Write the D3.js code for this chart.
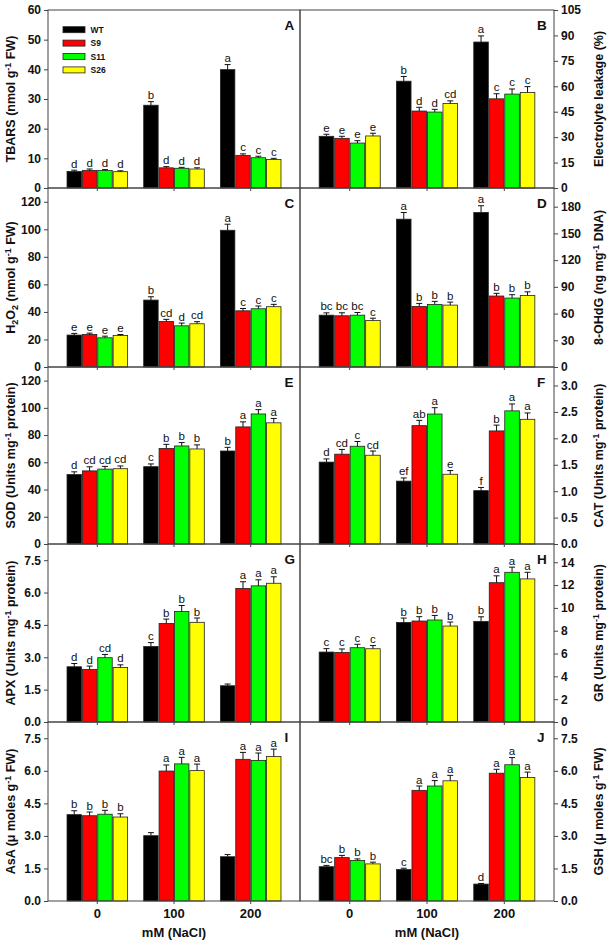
<!DOCTYPE html>
<html>
<head>
<meta charset="utf-8">
<script src="https://cdn.jsdelivr.net/npm/d3@7"></script>
<style>
  html, body { margin: 0; padding: 0; background: #fff; }
  svg { display: block; }
  text { font-family: "Liberation Sans", Arial, Helvetica, sans-serif; }
</style>
</head>
<body>
<svg id="chart" width="610" height="945"></svg>
<script>
// ---------------- DATA ----------------
const groups = ["0", "100", "200"];
const series = ["WT", "S9", "S11", "S26"];
const seriesColors = ["#000000", "#ff0000", "#00ff00", "#ffff00"];

// A: TBARS
const tbarsValues  = [[5.6, 5.9, 5.9, 5.5], [27.9, 6.8, 6.65, 6.4], [39.9, 11.0, 10.2, 9.6]];
const tbarsErrors  = [[0.4, 0.5, 0.3, 0.3], [1.2, 0.4, 0.3, 0.4], [1.7, 0.5, 0.5, 0.4]];
const tbarsLetters = [["d", "d", "d", "d"], ["b", "d", "d", "d"], ["a", "c", "c", "c"]];
const tbarsTicks   = [0, 10, 20, 30, 40, 50, 60];

// B: Electrolyte leakage
const elValues  = [[30.5, 29.3, 26.5, 30.7], [63.0, 45.4, 44.8, 49.8], [86.1, 52.6, 55.4, 56.4]];
const elErrors  = [[1.2, 1.2, 1.4, 1.6], [2.8, 2.2, 1.6, 1.6], [3.6, 3.0, 3.0, 3.4]];
const elLetters = [["e", "e", "e", "e"], ["b", "d", "d", "cd"], ["a", "c", "c", "c"]];
const elTicks   = [0, 15, 30, 45, 60, 75, 90, 105];

// C: H2O2
const h2o2Values  = [[23.2, 23.6, 21.2, 22.9], [48.6, 33.1, 29.9, 31.4], [99.3, 40.8, 42.3, 43.8]];
const h2o2Errors  = [[1.2, 1.0, 1.2, 0.7], [2.4, 1.5, 2.0, 1.5], [4.4, 1.7, 2.0, 1.7]];
const h2o2Letters = [["e", "e", "e", "e"], ["b", "cd", "d", "cd"], ["a", "c", "c", "c"]];
const h2o2Ticks   = [0, 20, 40, 60, 80, 100, 120];

// D: 8-OHdG
const ohdgValues  = [[58.2, 57.5, 58.2, 52.2], [166, 68, 70.3, 69.5], [173.6, 79.7, 77.4, 80.4]];
const ohdgErrors  = [[2.6, 3.4, 3.0, 2.6], [7.5, 3.4, 3.4, 3.4], [7.5, 3.0, 3.8, 4.0]];
const ohdgLetters = [["bc", "bc", "bc", "c"], ["a", "b", "b", "b"], ["a", "b", "b", "b"]];
const ohdgTicks   = [0, 30, 60, 90, 120, 150, 180];

// E: SOD
const sodValues  = [[51, 53.7, 55, 55.3], [56.8, 70.2, 72, 69.8], [68.3, 86, 95.5, 89]];
const sodErrors  = [[2, 3, 2, 2], [2, 3, 2.5, 3], [2.7, 3.7, 3.2, 3.2]];
const sodLetters = [["d", "cd", "cd", "cd"], ["c", "b", "b", "b"], ["b", "a", "a", "a"]];
const sodTicks   = [0, 20, 40, 60, 80, 100, 120];

// F: CAT
const catValues  = [[1.55, 1.70, 1.85, 1.68], [1.19, 2.24, 2.46, 1.32], [1.01, 2.14, 2.52, 2.36]];
const catErrors  = [[0.06, 0.09, 0.09, 0.08], [0.06, 0.10, 0.12, 0.07], [0.06, 0.11, 0.13, 0.12]];
const catLetters = [["d", "cd", "c", "cd"], ["ef", "ab", "a", "e"], ["f", "b", "a", "a"]];
const catTicks   = [0, 0.5, 1.0, 1.5, 2.0, 2.5, 3.0];

// G: APX
const apxValues  = [[2.56, 2.44, 2.98, 2.53], [3.5, 4.57, 5.12, 4.62], [1.68, 6.19, 6.31, 6.43]];
const apxErrors  = [[0.15, 0.15, 0.15, 0.12], [0.18, 0.2, 0.28, 0.2], [0.08, 0.31, 0.28, 0.3]];
const apxLetters = [["d", "d", "cd", "d"], ["c", "b", "b", "b"], ["", "a", "a", "a"]];
const apxTicks   = [0, 1.5, 3.0, 4.5, 6.0, 7.5];

// H: GR
const grValues  = [[6.13, 6.1, 6.51, 6.42], [8.73, 8.85, 8.94, 8.41], [8.82, 12.21, 13.12, 12.54]];
const grErrors  = [[0.3, 0.3, 0.3, 0.28], [0.38, 0.38, 0.4, 0.35], [0.4, 0.6, 0.45, 0.58]];
const grLetters = [["c", "c", "c", "c"], ["b", "b", "b", "b"], ["b", "a", "a", "a"]];
const grTicks   = [0, 2, 4, 6, 8, 10, 12, 14];

// I: AsA
const asaValues  = [[3.98, 3.93, 4.0, 3.87], [3.01, 5.99, 6.32, 6.01], [2.04, 6.53, 6.48, 6.66]];
const asaErrors  = [[0.18, 0.17, 0.18, 0.15], [0.14, 0.28, 0.3, 0.3], [0.1, 0.32, 0.34, 0.34]];
const asaLetters = [["b", "b", "b", "b"], ["", "a", "a", "a"], ["", "a", "a", "a"]];
const asaTicks   = [0, 1.5, 3.0, 4.5, 6.0, 7.5];

// J: GSH
const gshValues  = [[1.58, 2.0, 1.87, 1.71], [1.45, 5.1, 5.3, 5.54], [0.78, 5.89, 6.28, 5.69]];
const gshErrors  = [[0.06, 0.1, 0.07, 0.08], [0.06, 0.2, 0.25, 0.25], [0.03, 0.18, 0.33, 0.25]];
const gshLetters = [["bc", "b", "b", "b"], ["c", "a", "a", "a"], ["d", "a", "a", "a"]];
const gshTicks   = [0, 1.5, 3.0, 4.5, 6.0, 7.5];

const xAxisTitle = "mM (NaCl)";

// ---------------- PANEL TABLE ----------------
const panels = [
  { id: "A", col: 0, row: 0, values: tbarsValues, errors: tbarsErrors, letters: tbarsLetters, ticks: tbarsTicks, max: 60, fmt: d3.format("d"),
    title: [["TBARS (nmol g", 0], ["-1", 1], [" FW)", 0]] },
  { id: "B", col: 1, row: 0, values: elValues, errors: elErrors, letters: elLetters, ticks: elTicks, max: 105, fmt: d3.format("d"),
    title: [["Electrolyte leakage (%)", 0]] },
  { id: "C", col: 0, row: 1, values: h2o2Values, errors: h2o2Errors, letters: h2o2Letters, ticks: h2o2Ticks, max: 130, fmt: d3.format("d"),
    title: [["H", 0], ["2", -1], ["O", 0], ["2", -1], [" (nmol g", 0], ["-1", 1], [" FW)", 0]] },
  { id: "D", col: 1, row: 1, values: ohdgValues, errors: ohdgErrors, letters: ohdgLetters, ticks: ohdgTicks, max: 201, fmt: d3.format("d"),
    title: [["8-OHdG (ng mg", 0], ["-1", 1], [" DNA)", 0]] },
  { id: "E", col: 0, row: 2, values: sodValues, errors: sodErrors, letters: sodLetters, ticks: sodTicks, max: 130, fmt: d3.format("d"),
    title: [["SOD (Units mg", 0], ["-1", 1], [" protein)", 0]] },
  { id: "F", col: 1, row: 2, values: catValues, errors: catErrors, letters: catLetters, ticks: catTicks, max: 3.35, fmt: d3.format(".1f"),
    title: [["CAT (Units mg", 0], ["-1", 1], [" protein)", 0]] },
  { id: "G", col: 0, row: 3, values: apxValues, errors: apxErrors, letters: apxLetters, ticks: apxTicks, max: 8.25, fmt: d3.format(".1f"),
    title: [["APX (Units mg", 0], ["-1", 1], [" protein)", 0]] },
  { id: "H", col: 1, row: 3, values: grValues, errors: grErrors, letters: grLetters, ticks: grTicks, max: 15.6, fmt: d3.format("d"),
    title: [["GR (Units mg", 0], ["-1", 1], [" protein)", 0]] },
  { id: "I", col: 0, row: 4, values: asaValues, errors: asaErrors, letters: asaLetters, ticks: asaTicks, max: 8.25, fmt: d3.format(".1f"),
    title: [["AsA (\u03bc moles g", 0], ["-1", 1], [" FW)", 0]] },
  { id: "J", col: 1, row: 4, values: gshValues, errors: gshErrors, letters: gshLetters, ticks: gshTicks, max: 8.25, fmt: d3.format(".1f"),
    title: [["GSH (\u03bc moles g", 0], ["-1", 1], [" FW)", 0]] }
];

// ---------------- LAYOUT ----------------
const rowsY = [[10, 188], [188, 367], [367, 544], [544, 722], [722, 901]];
const colsX = [[48, 300], [300, 554]];
const axisColor = "#444";

const svg = d3.select("#chart");
const color = d3.scaleOrdinal().domain(series).range(seriesColors);

function addTitle(textSel, segs) {
  let shift = 0;
  segs.forEach(([t, mode]) => {
    const target = mode === 1 ? -4.5 : (mode === -1 ? 3 : 0);
    const ts = textSel.append("tspan").text(t).attr("dy", target - shift);
    if (mode !== 0) ts.attr("font-size", 9);
    shift = target;
  });
}

panels.forEach(p => {
  const [x0, x1] = colsX[p.col];
  const [yt, yb] = rowsY[p.row];
  const g = svg.append("g");

  const y = d3.scaleLinear().domain([0, p.max]).range([yb, yt]);
  const gx = d3.scaleBand().domain(groups).range([x0, x1]).paddingInner(0.21).paddingOuter(0.248);
  const sx = d3.scaleBand().domain(series).range([0, gx.bandwidth()]).paddingInner(0.06);

  const data = groups.flatMap((grp, gi) => series.map((s, si) => ({
    grp, s, v: p.values[gi][si], e: p.errors[gi][si], l: p.letters[gi][si]
  })));

  // bars
  g.selectAll("rect.bar").data(data).join("rect")
    .attr("class", "bar")
    .attr("x", d => gx(d.grp) + sx(d.s))
    .attr("y", d => y(d.v))
    .attr("width", sx.bandwidth())
    .attr("height", d => yb - y(d.v))
    .attr("fill", d => color(d.s))
    .attr("stroke", "#222")
    .attr("stroke-width", 0.8);

  // error bars
  const cx = d => gx(d.grp) + sx(d.s) + sx.bandwidth() / 2;
  g.selectAll("line.err").data(data).join("line")
    .attr("class", "err")
    .attr("x1", cx).attr("x2", cx)
    .attr("y1", d => y(d.v)).attr("y2", d => y(d.v + d.e))
    .attr("stroke", "#111").attr("stroke-width", 1);
  g.selectAll("line.cap").data(data).join("line")
    .attr("class", "cap")
    .attr("x1", d => cx(d) - 3).attr("x2", d => cx(d) + 3)
    .attr("y1", d => y(d.v + d.e)).attr("y2", d => y(d.v + d.e))
    .attr("stroke", "#111").attr("stroke-width", 1);

  // significance letters
  g.selectAll("text.sig").data(data.filter(d => d.l)).join("text")
    .attr("class", "sig")
    .attr("x", cx)
    .attr("y", d => y(d.v + d.e) - 2.5)
    .attr("text-anchor", "middle")
    .attr("font-size", 11.5)
    .attr("fill", "#111")
    .text(d => d.l);

  // frame
  g.append("rect")
    .attr("x", x0).attr("y", yt).attr("width", x1 - x0).attr("height", yb - yt)
    .attr("fill", "none").attr("stroke", axisColor).attr("stroke-width", 1);

  // x ticks at group centers
  g.selectAll("line.xt").data(groups).join("line")
    .attr("class", "xt")
    .attr("x1", d => gx(d) + gx.bandwidth() / 2).attr("x2", d => gx(d) + gx.bandwidth() / 2)
    .attr("y1", yb).attr("y2", yb + 3)
    .attr("stroke", axisColor);

  // y axis
  const axis = (p.col === 0 ? d3.axisLeft(y) : d3.axisRight(y))
    .tickValues(p.ticks).tickSize(4).tickPadding(3).tickFormat(p.fmt);
  const ag = g.append("g")
    .attr("transform", `translate(${p.col === 0 ? x0 : x1},0)`)
    .call(axis);
  ag.select(".domain").remove();
  ag.selectAll(".tick line").attr("stroke", axisColor);
  ag.selectAll(".tick text")
    .attr("font-size", 12).attr("font-weight", "bold").attr("fill", "#111")
    .attr("font-family", '"Liberation Sans", Arial, sans-serif');

  // y title
  const tx = p.col === 0 ? 15 : 603;
  const ty = (yt + yb) / 2;
  const title = g.append("text")
    .attr("transform", `translate(${tx},${ty}) rotate(-90)`)
    .attr("text-anchor", "middle")
    .attr("font-size", 12.5).attr("font-weight", "bold").attr("fill", "#111");
  addTitle(title, p.title);

  // panel letter
  g.append("text")
    .attr("x", p.col === 0 ? x1 - 15.5 : x1 - 17)
    .attr("y", yt + 19.5)
    .attr("font-size", 13.5).attr("font-weight", "bold").attr("fill", "#111")
    .text(p.id);

  // x labels on bottom row
  if (p.row === 4) {
    g.selectAll("text.xl").data(groups).join("text")
      .attr("class", "xl")
      .attr("x", d => gx(d) + gx.bandwidth() / 2)
      .attr("y", 917.5)
      .attr("text-anchor", "middle")
      .attr("font-size", 13).attr("font-weight", "bold").attr("fill", "#111")
      .text(d => d);
    g.append("text")
      .attr("x", (x0 + x1) / 2).attr("y", 936.5)
      .attr("text-anchor", "middle")
      .attr("font-size", 13).attr("font-weight", "bold").attr("fill", "#111")
      .text(xAxisTitle);
  }

  // legend in panel A
  if (p.id === "A") {
    const lg = g.append("g");
    series.forEach((s, i) => {
      const cy = yt + 19.7 + i * 13.4;
      lg.append("rect")
        .attr("x", 63).attr("y", cy - 3).attr("width", 22).attr("height", 6)
        .attr("fill", color(s)).attr("stroke", "#222").attr("stroke-width", 0.8);
      lg.append("text")
        .attr("x", 90.5).attr("y", cy + 3)
        .attr("font-size", 8.5).attr("font-weight", "bold").attr("fill", "#111")
        .text(s);
    });
  }
});
</script>
</body>
</html>
